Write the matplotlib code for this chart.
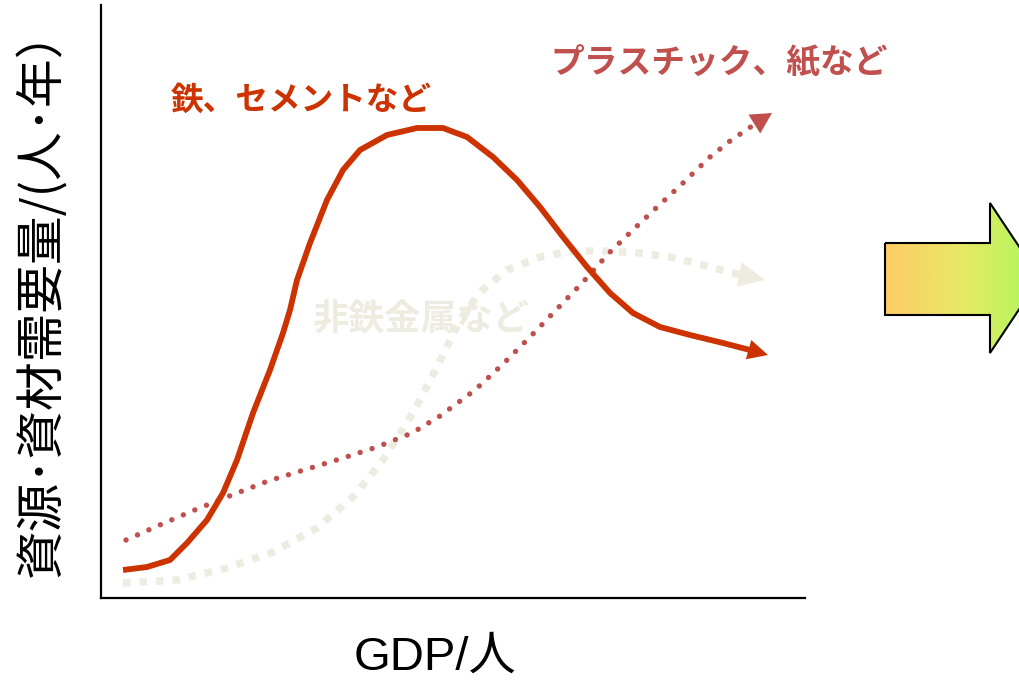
import numpy as np
import matplotlib
matplotlib.use("Agg")
import matplotlib.pyplot as plt
from matplotlib.patches import Polygon
from matplotlib.colors import LinearSegmentedColormap

plt.rcParams['font.family'] = ['Noto Sans CJK JP', 'DejaVu Sans']

# curves (arbitrary units, x = GDP/person, y = demand)
# last point of each series is the arrow tip
iron_x = [22, 46, 69, 86, 106, 122, 136, 152, 169, 182, 189, 196, 209, 226, 242, 259, 286, 316,
          342, 366, 392, 416, 439, 462, 486, 509, 532, 559, 589, 622, 649, 667]
iron_y = [28, 31, 38, 55, 78, 105, 138, 185, 228, 265, 288, 318, 355, 398, 428, 448, 463, 470,
          470, 461, 441, 418, 391, 361, 331, 305, 285, 271, 263, 255, 248, 243]

plastic_x = [25, 61, 96, 131, 167, 203, 239, 276, 311, 339, 374, 402, 429, 456, 482, 508, 535,
             554, 582, 609, 629, 651, 655, 671]
plastic_y = [58, 74, 89, 103, 117, 128, 139, 151, 165, 182, 208, 234, 261, 289, 316, 345, 371,
             389, 415, 441, 457, 472, 475, 485]

nonfe_x = [22, 76, 126, 172, 216, 252, 282, 312, 336, 359, 379, 406, 439, 472, 506, 539, 569,
           602, 632, 640, 664]
nonfe_y = [15, 18, 30, 46, 70, 101, 138, 185, 231, 278, 306, 328, 341, 347, 347, 345, 341,
           333, 325, 323, 318]

labels = ['鉄、セメントなど', 'プラスチック、紙など', '非鉄金属など']
colors = ['#CC3300', '#C0504D', '#EEECE1']
xlabel = 'GDP/人'
ylabel = '資源･資材需要量/(人･年）'

fig = plt.figure(figsize=(10.19, 6.80), dpi=100)
ax = fig.add_axes([101/1019, (680-598)/680, (805-101)/1019, (598-5)/680])
ax.set_xlim(0, 704)
ax.set_ylim(0, 593)
ax.set_xticks([])
ax.set_yticks([])
for s in ['top', 'right']:
    ax.spines[s].set_visible(False)
for s in ['left', 'bottom']:
    ax.spines[s].set_linewidth(1.6)

# lines stop at the base of the arrow head
ax.plot(nonfe_x[:-1], nonfe_y[:-1], color=colors[2], lw=5.4, linestyle=(0, (1, 1.2)),
        dash_capstyle='butt', zorder=1)
ax.plot(plastic_x[:-1], plastic_y[:-1], color=colors[1], lw=3.9, linestyle=(0, (0.01, 2.3)),
        dash_capstyle='round', zorder=2)
ax.plot(iron_x[:-1], iron_y[:-1], color=colors[0], lw=4.2, solid_capstyle='butt',
        solid_joinstyle='round', zorder=3)

# arrow heads
for xs, ys, c, hl, hw in [(nonfe_x, nonfe_y, colors[2], 1.9, 0.9),
                          (plastic_x, plastic_y, colors[1], 1.5, 0.8),
                          (iron_x, iron_y, colors[0], 1.45, 0.72)]:
    ax.annotate('', xy=(xs[-1], ys[-1]), xytext=(xs[-2], ys[-2]),
                arrowprops=dict(arrowstyle='-|>,head_length=%.2f,head_width=%.2f' % (hl, hw),
                                facecolor=c, edgecolor='none', lw=0, shrinkA=0, shrinkB=0,
                                mutation_scale=10),
                zorder=4)

# curve labels
ax.text(70, 498, labels[0], color=colors[0], fontsize=23.5, fontweight='bold', va='center')
ax.text(449, 536, labels[1], color=colors[1], fontsize=24.3, fontweight='bold', va='center')
ax.text(211, 278, labels[2], color=colors[2], fontsize=26, fontweight='bold', va='center', zorder=0)

fig.text(435/1019, 1 - 658/680, xlabel, fontsize=34, ha='center', va='center',
         family=['Liberation Sans', 'Noto Sans CJK JP'])
fig.text(42/1019, 1 - 292/680, ylabel, fontsize=35, rotation=90, ha='center', va='center')

# block arrow on the right with gradient fill
ov = fig.add_axes([0, 0, 1, 1], zorder=5)
ov.axis('off')
shape = [(885, 243), (990, 243), (990, 203), (1040, 278), (990, 353), (990, 315), (885, 315)]
poly = Polygon(shape, closed=True, facecolor='none', edgecolor='black', lw=1.5, zorder=3)
ov.add_patch(poly)
grad = np.linspace(0, 1, 256).reshape(1, -1)
cmap = LinearSegmentedColormap.from_list('g', ['#FFCC66', '#E8E866', '#A8FA5A'])
im = ov.imshow(grad, cmap=cmap, extent=[885, 1040, 353, 203], aspect='auto', zorder=2)
im.set_clip_path(poly)
ov.set_xlim(0, 1019)
ov.set_ylim(680, 0)

fig.savefig('out.png', dpi=100)
